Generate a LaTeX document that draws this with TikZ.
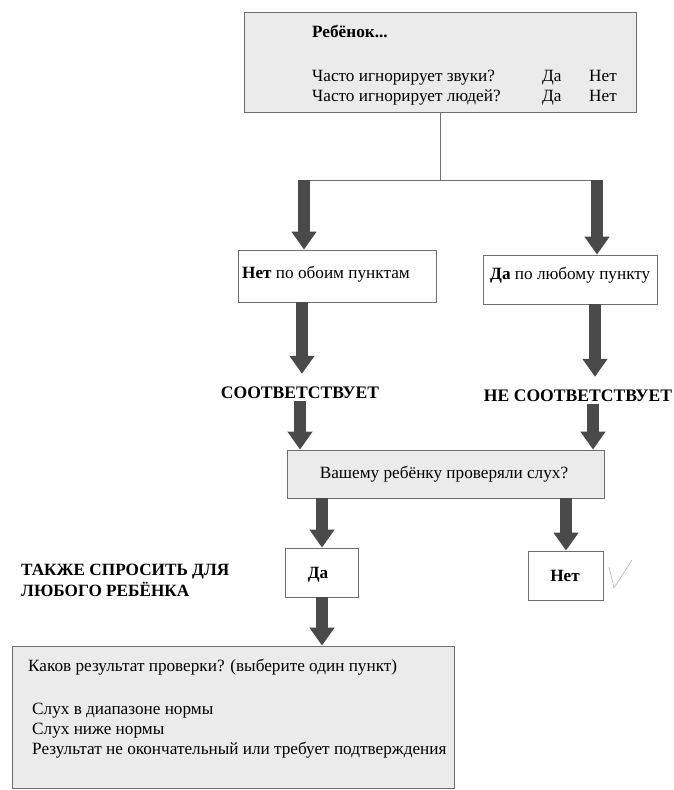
\documentclass[tikz,border=0pt]{standalone}
\usepackage{fontspec}
\setmainfont{Liberation Serif}
\usetikzlibrary{arrows.meta}
\definecolor{boxgray}{HTML}{EBEBEB}
\definecolor{linegray}{HTML}{6E6E6E}
\definecolor{arrgray}{HTML}{4A4A4A}
\newcommand\bodyfont{\fontsize{17.2}{21}\selectfont}
\tikzset{
  box/.style={draw=linegray, line width=0.8pt, inner sep=0pt},
  graybox/.style={box, fill=boxgray},
  txt/.style={inner sep=0pt, font=\bodyfont, text height=12pt, text depth=3pt},
  btxt/.style={txt, font=\bodyfont\bfseries},
  lbl/.style={inner xsep=0pt, inner ysep=3pt, font=\fontsize{17.6}{21}\selectfont\bfseries, text height=12pt, text depth=0pt},
  thinline/.style={draw=linegray, line width=0.7pt},
  bigarr/.style={draw=arrgray, line width=12pt, -{Triangle[width=24pt,length=18pt]}},
}
\begin{document}
\begin{tikzpicture}[x=1pt,y=-1pt]
\useasboundingbox (0,0) rectangle (674,790);
% top box
\node[graybox, minimum width=392pt, minimum height=100pt] (top) at (440,62) {};
\node[btxt, anchor=west] (t0) at (312,33) {Ребёнок...};
\node[txt, anchor=west] (t1) at (312,77) {Часто игнорирует звуки?};
\node[txt, anchor=west] (t1y) at (542,77) {Да};
\node[txt, anchor=west] (t1n) at (589,77) {Нет};
\node[txt, anchor=west] (t2) at (312,97) {Часто игнорирует людей?};
\node[txt, anchor=west] (t2y) at (542,97) {Да};
\node[txt, anchor=west] (t2n) at (589,97) {Нет};
% split
\coordinate (jm) at (440,180);
\coordinate (jl) at (304,180);
\coordinate (jr) at (597,180);
\draw[thinline] (top.south) -- (jm);
\draw[thinline] (jl) -- (jr);
% second row boxes
\node[box, minimum width=198pt, minimum height=52pt] (n1) at (337,276) {};
\node[txt, anchor=west] (n1t) at (242,274) {\textbf{Нет} по обоим пунктам};
\node[box, minimum width=174pt, minimum height=49pt] (n2) at (570,279.5) {};
\node[txt, anchor=west] (n2t) at (490,275) {\textbf{Да} по любому пункту};
\draw[bigarr] (jl) -- (jl |- n1.north);
\draw[bigarr] (jr) -- (jr |- n2.north);
% labels
\node[lbl] (c1) at (300,392) {СООТВЕТСТВУЕТ};
\node[lbl] (c2) at (578,395) {НЕ СООТВЕТСТВУЕТ};
\coordinate (xc) at (302,0);
\coordinate (xd) at (595,0);
\coordinate (xe) at (300,0);
\coordinate (xf) at (593,0);
\draw[bigarr, shorten >=9pt] (xc |- n1.south) -- (xc |- c1.north);
\draw[bigarr, shorten >=9pt] (xd |- n2.south) -- (xd |- c2.north);
% question box
\node[graybox, minimum width=317pt, minimum height=48pt] (q) at (445.5,474) {};
\node[txt] (qt) at (444,474) {Вашему ребёнку проверяли слух?};
\draw[bigarr] (xe |- c1.south) -- (xe |- q.north);
\draw[bigarr] (xf |- c2.south) -- (xf |- q.north);
% yes / no
\node[box, minimum width=73pt, minimum height=49pt] (da) at (321.5,572.5) {};
\node[btxt] (dat) at (318,574) {Да};
\node[box, minimum width=75pt, minimum height=49pt] (net) at (565.5,575.5) {};
\node[btxt] (nett) at (565,577) {Нет};
\coordinate (xg) at (322,0);
\coordinate (xh) at (566,0);
\draw[bigarr] (xg |- q.south) -- (xg |- da.north);
\draw[bigarr] (xh |- q.south) -- (xh |- net.north);
% check mark
\draw[draw=gray!60, line width=0.6pt] (609,567) -- (614,588) -- (632,560);
% also ask
\node[btxt, anchor=north west, align=left] (also) at (21,584) {ТАКЖЕ СПРОСИТЬ ДЛЯ\\ЛЮБОГО РЕБЁНКА};
% result box
\node[graybox, minimum width=442pt, minimum height=142pt] (res) at (233,717) {};
\draw[bigarr] (xg |- da.south) -- (xg |- res.north);
\node[txt, anchor=west] (r0) at (28,667) {Каков результат проверки? (выберите один пункт)};
\node[txt, anchor=west] (r1) at (32,710) {Слух в диапазоне нормы};
\node[txt, anchor=west] (r2) at (32,730) {Слух ниже нормы};
\node[txt, anchor=west] (r3) at (32,750) {Результат не окончательный или требует подтверждения};
\end{tikzpicture}
\end{document}
